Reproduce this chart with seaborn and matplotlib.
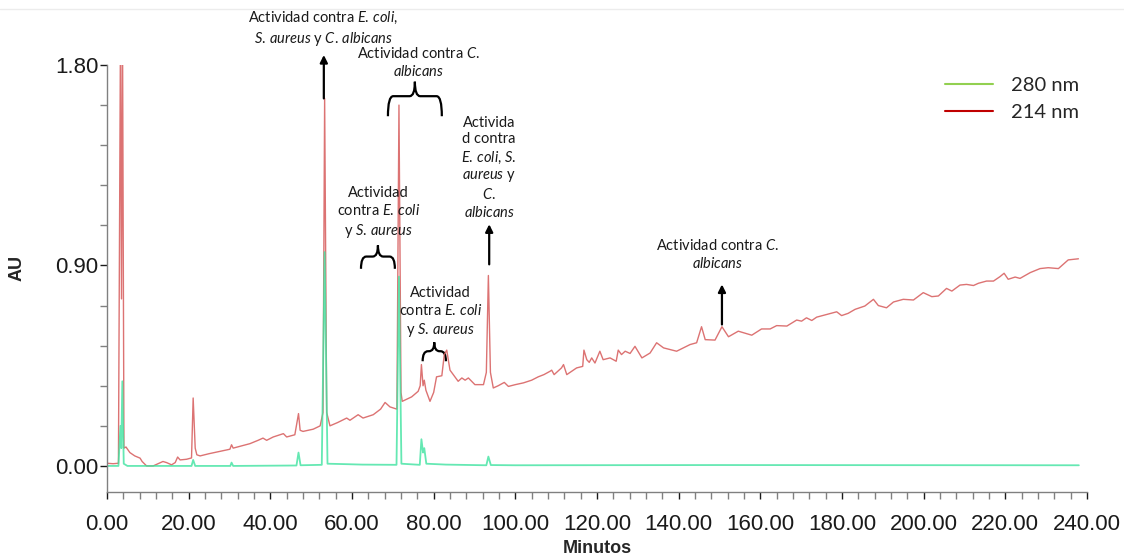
import numpy as np
import pandas as pd
import seaborn as sns
import matplotlib.pyplot as plt
from matplotlib.lines import Line2D
from matplotlib.path import Path
from matplotlib.patches import PathPatch

# 214 nm trace (minutes, AU)
red_t = [0.0, 1.5, 2.8, 3.3, 3.55, 3.8, 4.15, 4.65, 5.6, 6.8, 8.1, 8.6, 9.7, 11.3, 12.5, 13.7,
         14.6, 15.8, 16.7, 17.3, 17.9, 19.5, 20.7, 21.1, 21.6, 22.0, 22.8, 25.0, 27.5, 30.1,
         30.5, 30.9, 33.0, 35.0, 37.0, 38.2, 39.1, 40.7, 43.2, 44.0, 46.0, 46.9, 47.3, 48.0,
         50.5, 52.2, 52.9, 53.3, 53.8, 54.6, 56.5, 58.7, 59.5, 61.5, 62.7, 65.2, 67.0, 68.1,
         69.3, 71.0, 71.5, 72.0, 72.3, 74.6, 76.2, 76.7, 77.0, 77.4, 77.7, 78.1, 79.1, 80.0,
         80.7, 82.0, 82.6, 83.2, 84.0, 86.0, 86.9, 87.7, 88.5, 90.1, 92.2, 92.9, 93.4, 93.9,
         94.6, 95.8, 97.3, 98.3, 100.0, 102.0, 104.0, 105.6, 107.0, 108.5, 108.9, 109.5,
         111.3, 111.8, 112.6, 115.0, 116.5, 116.8, 117.5, 118.1, 118.7, 119.5, 120.7, 121.5,
         123.2, 124.7, 125.2, 126.0, 126.9, 128.1, 129.3, 131.0, 133.0, 134.6, 136.3, 139.5,
         142.8, 144.4, 145.6, 146.5, 148.9, 150.6, 152.2, 154.6, 157.9, 160.3, 162.4, 164.0,
         166.5, 168.9, 170.1, 171.3, 172.6, 173.8, 176.2, 178.7, 179.9, 181.5, 183.2, 185.6,
         187.7, 188.9, 190.9, 192.6, 195.0, 197.5, 199.9, 202.0, 203.6, 205.6, 206.9, 208.9,
         210.5, 212.2, 213.4, 215.4, 217.1, 218.7, 219.7, 220.7, 222.4, 223.6, 226.1, 228.5,
         230.5, 233.0, 235.4, 237.9]
red_au = [0.012, 0.01, 0.012, 1.95, 0.75, 1.95, 0.08, 0.085, 0.06, 0.045, 0.035, 0.02, 0.0,
          0.0, 0.01, 0.02, 0.015, 0.005, 0.015, 0.04, 0.027, 0.03, 0.036, 0.305, 0.08, 0.05,
          0.045, 0.055, 0.065, 0.075, 0.095, 0.08, 0.09, 0.10, 0.115, 0.125, 0.115, 0.13,
          0.145, 0.13, 0.14, 0.235, 0.16, 0.155, 0.165, 0.18, 0.24, 1.65, 0.24, 0.18, 0.195,
          0.215, 0.205, 0.23, 0.215, 0.23, 0.255, 0.285, 0.265, 0.255, 1.62, 0.33, 0.29, 0.31,
          0.335, 0.36, 0.455, 0.36, 0.385, 0.34, 0.29, 0.33, 0.40, 0.405, 0.50, 0.52, 0.43,
          0.38, 0.395, 0.385, 0.395, 0.365, 0.365, 0.42, 0.855, 0.42, 0.35, 0.36, 0.375,
          0.357, 0.365, 0.373, 0.385, 0.40, 0.41, 0.425, 0.43, 0.41, 0.44, 0.455, 0.41, 0.44,
          0.447, 0.52, 0.477, 0.465, 0.485, 0.462, 0.515, 0.477, 0.485, 0.47, 0.52, 0.50,
          0.515, 0.505, 0.537, 0.485, 0.507, 0.553, 0.53, 0.515, 0.545, 0.553, 0.625, 0.567,
          0.565, 0.625, 0.58, 0.605, 0.587, 0.615, 0.615, 0.63, 0.628, 0.655, 0.65, 0.665,
          0.653, 0.668, 0.68, 0.692, 0.675, 0.685, 0.703, 0.718, 0.748, 0.72, 0.71, 0.736,
          0.748, 0.745, 0.778, 0.76, 0.763, 0.797, 0.785, 0.812, 0.815, 0.81, 0.82, 0.83,
          0.83, 0.85, 0.865, 0.838, 0.848, 0.842, 0.868, 0.886, 0.89, 0.886, 0.925, 0.93]

# 280 nm trace
green_t = [0.0, 2.8, 3.3, 3.5, 3.75, 4.1, 5.0, 20.7, 21.1, 21.6, 30.2, 30.5, 30.9, 46.4, 46.9,
           47.4, 52.6, 53.3, 54.0, 58.5, 62.5, 70.9, 71.5, 72.1, 76.6, 77.0, 77.4, 77.7, 78.2,
           83.0, 92.9, 93.4, 94.0, 100.0, 150.0, 238.0]
green_au = [0.0, 0.0, 0.18, 0.08, 0.38, 0.01, 0.0, 0.0, 0.027, 0.0, 0.0, 0.015, 0.0, 0.002,
            0.06, 0.003, 0.005, 0.96, 0.01, 0.008, 0.006, 0.005, 0.85, 0.01, 0.005, 0.12, 0.06,
            0.08, 0.01, 0.006, 0.003, 0.042, 0.004, 0.003, 0.004, 0.003]

legend_labels = ["280 nm", "214 nm"]
legend_colors = ["#92d050", "#c00000"]

sns.set_style("ticks")
plt.rcParams["font.family"] = ["Liberation Sans", "DejaVu Sans"]
plt.rcParams["mathtext.fontset"] = "custom"
plt.rcParams["mathtext.rm"] = "Lato"
plt.rcParams["mathtext.it"] = "Lato:italic"

fig = plt.figure(figsize=(11.24, 5.58), dpi=100)
ax = fig.add_axes([107 / 1124, 1 - 492 / 558, 980 / 1124, 427 / 558])

red = pd.DataFrame({"t": red_t, "au": red_au})
green = pd.DataFrame({"t": green_t, "au": green_au})
sns.lineplot(data=red, x="t", y="au", ax=ax, color="#d65a5a", lw=1.0, alpha=0.85,
             estimator=None, sort=False)
sns.lineplot(data=green, x="t", y="au", ax=ax, color="#3fe3a0", lw=1.3, alpha=0.8,
             estimator=None, sort=False)

ax.set_xlim(0, 240)
ax.set_ylim(-0.117, 1.80)
ax.set_xticks(np.arange(0, 241, 20))
ax.set_xticks(np.arange(0, 241, 4), minor=True)
ax.set_xticklabels([f"{v:.2f}" for v in np.arange(0, 241, 20)], fontsize=16)
ax.set_yticks([0.0, 0.9, 1.8])
ax.set_yticks(np.arange(0, 1.81, 0.18), minor=True)
ax.set_yticklabels(["0.00", "0.90", "1.80"], fontsize=16)
for s in ["top", "right"]:
    ax.spines[s].set_visible(False)
for s in ["left", "bottom"]:
    ax.spines[s].set_color("#808080")
    ax.spines[s].set_linewidth(1)
ax.tick_params(axis="y", which="both", length=5, width=1, color="#808080", pad=1)
ax.tick_params(axis="x", which="both", length=5, width=1, color="#808080", pad=11)
ax.tick_params(colors="#1a1a1a", which="major")

ax.set_xlabel("Minutos", fontsize=13, fontweight="bold")
ax.xaxis.set_label_coords(0.5, -0.113)
ax.set_ylabel("AU", fontsize=13, fontweight="bold")
ax.yaxis.set_label_coords(-0.083, 0.525)

# annotations
ann = dict(ha="center", va="center", fontsize=10.5, family=["Lato", "DejaVu Sans"],
           color="#1a1a1a", linespacing=1.25, clip_on=False)
ax.text(52.9, 1.962, "Actividad contra $E.\\,coli$,\n$S.\\,aureus$ y $C.\\,albicans$", **ann)
ax.text(76.2, 1.81, "Actividad contra $C.$\n$albicans$", **ann)
ax.text(66.4, 1.135, "Actividad\ncontra $E.\\,coli$\ny $S.\\,aureus$", **ann)
ax.text(81.6, 0.69, "Actividad\ncontra $E.\\,coli$\ny $S.\\,aureus$", **ann)
ax.text(93.6, 1.338, "Activida\nd contra\n$E.\\,coli$, $S.$\n$aureus$ y\n$C.$\n$albicans$", **ann)
ax.text(149.6, 0.95, "Actividad contra $C.$\n$albicans$", **ann)

arrow = dict(arrowstyle="-|>", color="black", lw=1.6, mutation_scale=11, shrinkA=0, shrinkB=0)
for x, y0, y1 in [(53.1, 1.65, 1.845), (93.6, 0.905, 1.085), (150.6, 0.635, 0.815)]:
    ax.annotate("", xy=(x, y1), xytext=(x, y0), arrowprops=arrow, annotation_clip=False)


def brace(x0, x1, y, drop, rise, r=1.3):
    xc = (x0 + x1) / 2
    verts = [(x0, y - drop), (x0, y), (x0 + r, y), (xc - r, y), (xc, y), (xc, y + rise),
             (xc, y), (xc + r, y), (x1 - r, y), (x1, y), (x1, y - drop)]
    codes = [Path.MOVETO, Path.CURVE3, Path.CURVE3, Path.LINETO, Path.CURVE3, Path.CURVE3,
             Path.CURVE3, Path.CURVE3, Path.LINETO, Path.CURVE3, Path.CURVE3]
    ax.add_patch(PathPatch(Path(verts, codes), fc="none", ec="black", lw=1.6, clip_on=False))


brace(68.8, 82.0, 1.66, 0.09, 0.065)
brace(62.2, 70.5, 0.94, 0.055, 0.05)
brace(77.3, 83.0, 0.515, 0.045, 0.04)

handles = [Line2D([], [], color=c, lw=1.5) for c in legend_colors]
fig.legend(handles, legend_labels, loc="upper left", bbox_to_anchor=(945 / 1124, 1 - 77 / 558),
           frameon=False, borderpad=0, borderaxespad=0, handlelength=2.4, handletextpad=0.9,
           labelspacing=0.5, prop={"family": ["Lato", "DejaVu Sans"], "size": 14.5})

fig.add_artist(Line2D([0, 1], [1 - 9 / 558, 1 - 9 / 558], color="#ececec", lw=1))

fig.savefig("out.png", dpi=100)
